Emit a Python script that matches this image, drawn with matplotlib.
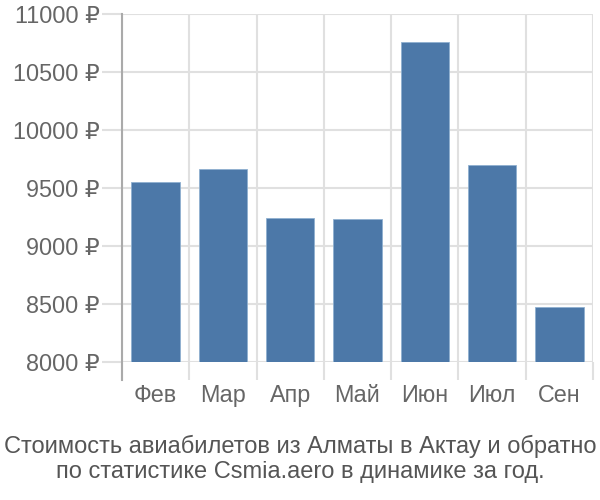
import numpy as np
import matplotlib
matplotlib.use("Agg")
import matplotlib.pyplot as plt

months = ["Фев", "Мар", "Апр", "Май", "Июн", "Июл", "Сен"]
prices = [9552, 9660, 9241, 9233, 10760, 9698, 8474]
yticks = [8000, 8500, 9000, 9500, 10000, 10500, 11000]
title = ("Стоимость авиабилетов из Алматы в Актау и обратно\n"
         "по статистике Csmia.aero в динамике за год.")

plt.rcParams["font.family"] = ["Liberation Sans", "DejaVu Sans"]

fig = plt.figure(figsize=(6, 5), dpi=100)
ax = fig.add_axes([0.2033, 0.276, 0.785, 0.696])

x = np.arange(len(months))
ax.bar(x, prices, width=0.72, bottom=0, color="#4c78a8",
       edgecolor="#8fb0d0", linewidth=0.6, zorder=3)

ax.set_ylim(8000, 11000)
ax.set_xlim(-0.5, len(months) - 0.5)

ax.set_yticks(yticks)
ax.set_yticklabels([f"{v} ₽" for v in yticks])
ax.tick_params(axis="y", length=14.4, width=1.5, color="#e0e0e0",
               labelsize=16.8, labelcolor="#666666", pad=1.5)

ax.set_xticks(np.arange(len(months) + 1) - 0.5)
ax.set_xticklabels([])
ax.set_xticks(x, minor=True)
ax.set_xticklabels(months, minor=True)
ax.tick_params(axis="x", which="major", length=13, width=1.5, color="#e0e0e0")
ax.tick_params(axis="x", which="minor", length=0, labelsize=16.8,
               labelcolor="#666666", pad=16)

ax.grid(True, which="major", color="#e0e0e0", linewidth=1.5, zorder=0)
ax.set_axisbelow(True)

for s in ["top", "right", "bottom"]:
    ax.spines[s].set_visible(False)
ax.spines["left"].set_color("#aaaaaa")
ax.spines["left"].set_linewidth(1.5)
ax.spines["left"].set_bounds(7845, 11000)

fig.text(0.5, 0.082, title, ha="center", va="center", fontsize=17,
         color="#555555", linespacing=1.2)

fig.savefig("out.png", dpi=100)
